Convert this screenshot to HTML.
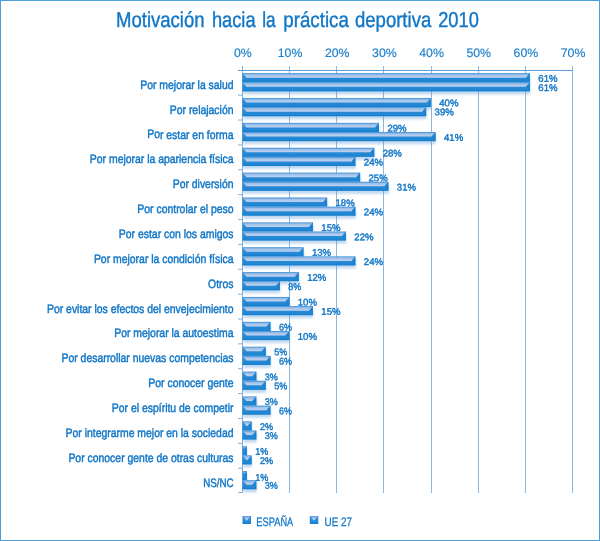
<!DOCTYPE html><html lang="es"><head><meta charset="utf-8"><title>Motivación hacia la práctica deportiva 2010</title>
<style>html,body{margin:0;padding:0;background:#fff}svg{display:block}text{font-family:"Liberation Sans",sans-serif;fill:#1076c7;text-rendering:geometricPrecision}.c{font-size:12.2px;stroke:#1076c7;stroke-width:.45px}.d{font-size:9.7px;stroke:#1076c7;stroke-width:.4px}.a{font-size:12.3px;text-anchor:middle;fill:#1a7fcc;stroke:#1a7fcc;stroke-width:.15px}</style></head><body>
<svg width="600" height="541" viewBox="0 0 600 541">
<defs>
<linearGradient id="g" x1="0" y1="0" x2="0" y2="1"><stop offset="0" stop-color="#4e99da"/><stop offset="0.12" stop-color="#3a90d7"/><stop offset="0.5" stop-color="#2a8ad5"/><stop offset="0.85" stop-color="#1f85d2"/><stop offset="1" stop-color="#0a7ccc"/></linearGradient>
<linearGradient id="h" gradientUnits="userSpaceOnUse" x1="0" y1="0" x2="0" y2="3.90"><stop offset="0" stop-color="#76aae0"/><stop offset="0.3" stop-color="#9fc0e9"/><stop offset="0.7" stop-color="#b3ccee"/><stop offset="1" stop-color="#bdd2f1"/></linearGradient>
<filter id="sh" x="-5%" y="-50%" width="110%" height="250%"><feGaussianBlur stdDeviation="1.1"/></filter>
</defs>
<rect x="0" y="0" width="600" height="541" fill="#fff"/>
<rect x="0.5" y="0.5" width="599" height="540" fill="none" stroke="#4c9fd8" stroke-width="1"/>
<text y="27.4" font-size="21.6" stroke="#1076c7" stroke-width="0.4"><tspan x="116.00" textLength="88.60" lengthAdjust="spacingAndGlyphs">Motivación</tspan> <tspan x="211.90" textLength="43.70" lengthAdjust="spacingAndGlyphs">hacia</tspan> <tspan x="262.20" textLength="13.40" lengthAdjust="spacingAndGlyphs">la</tspan> <tspan x="283.30" textLength="65.50" lengthAdjust="spacingAndGlyphs">práctica</tspan> <tspan x="355.00" textLength="76.20" lengthAdjust="spacingAndGlyphs">deportiva</tspan> <tspan x="438.20" textLength="40.60" lengthAdjust="spacingAndGlyphs">2010</tspan></text>
<line x1="242.5" y1="66" x2="242.5" y2="493.0" stroke="#7fb0e0"/>
<text class="a" transform="translate(242.90 57.1) rotate(0.03)">0%</text>
<line x1="289.5" y1="66" x2="289.5" y2="493.0" stroke="#8bb6e2"/>
<text class="a" transform="translate(290.07 57.1) rotate(0.03)">10%</text>
<line x1="336.5" y1="66" x2="336.5" y2="493.0" stroke="#8bb6e2"/>
<text class="a" transform="translate(337.24 57.1) rotate(0.03)">20%</text>
<line x1="383.5" y1="66" x2="383.5" y2="493.0" stroke="#8bb6e2"/>
<text class="a" transform="translate(384.41 57.1) rotate(0.03)">30%</text>
<line x1="431.5" y1="66" x2="431.5" y2="493.0" stroke="#8bb6e2"/>
<text class="a" transform="translate(431.58 57.1) rotate(0.03)">40%</text>
<line x1="478.5" y1="66" x2="478.5" y2="493.0" stroke="#8bb6e2"/>
<text class="a" transform="translate(478.75 57.1) rotate(0.03)">50%</text>
<line x1="525.5" y1="66" x2="525.5" y2="493.0" stroke="#8bb6e2"/>
<text class="a" transform="translate(525.92 57.1) rotate(0.03)">60%</text>
<line x1="572.5" y1="66" x2="572.5" y2="493.0" stroke="#8bb6e2"/>
<text class="a" transform="translate(573.09 57.1) rotate(0.03)">70%</text>
<line x1="238.0" y1="70.5" x2="573.0" y2="70.5" stroke="#5b9bd7"/>
<line x1="238" y1="95.17" x2="242" y2="95.17" stroke="#7fb0e0"/>
<line x1="238" y1="120.04" x2="242" y2="120.04" stroke="#7fb0e0"/>
<line x1="238" y1="144.91" x2="242" y2="144.91" stroke="#7fb0e0"/>
<line x1="238" y1="169.78" x2="242" y2="169.78" stroke="#7fb0e0"/>
<line x1="238" y1="194.65" x2="242" y2="194.65" stroke="#7fb0e0"/>
<line x1="238" y1="219.52" x2="242" y2="219.52" stroke="#7fb0e0"/>
<line x1="238" y1="244.39" x2="242" y2="244.39" stroke="#7fb0e0"/>
<line x1="238" y1="269.26" x2="242" y2="269.26" stroke="#7fb0e0"/>
<line x1="238" y1="294.13" x2="242" y2="294.13" stroke="#7fb0e0"/>
<line x1="238" y1="319.00" x2="242" y2="319.00" stroke="#7fb0e0"/>
<line x1="238" y1="343.87" x2="242" y2="343.87" stroke="#7fb0e0"/>
<line x1="238" y1="368.74" x2="242" y2="368.74" stroke="#7fb0e0"/>
<line x1="238" y1="393.61" x2="242" y2="393.61" stroke="#7fb0e0"/>
<line x1="238" y1="418.48" x2="242" y2="418.48" stroke="#7fb0e0"/>
<line x1="238" y1="443.35" x2="242" y2="443.35" stroke="#7fb0e0"/>
<line x1="238" y1="468.22" x2="242" y2="468.22" stroke="#7fb0e0"/>
<line x1="238" y1="492.50" x2="242" y2="492.50" stroke="#7fb0e0"/>
<rect x="243.40" y="76.10" width="286.94" height="9.15" fill="#5b9bd7" opacity="0.38" filter="url(#sh)"/>
<rect x="243.40" y="85.25" width="286.94" height="9.15" fill="#5b9bd7" opacity="0.38" filter="url(#sh)"/>
<rect x="242.40" y="73.10" width="287.54" height="9.15" fill="url(#g)"/>
<polygon transform="translate(0 73.80)" points="243.00,0.00 529.34,0.00 525.84,3.90 246.50,3.90" fill="url(#h)"/>
<polygon points="529.94,73.10 529.94,82.25 526.44,77.70" fill="#1580d0" opacity="0.7"/>
<text class="d" transform="translate(538.34 81.77) rotate(0.04) scale(0.99 1)">61%</text>
<rect x="242.40" y="82.25" width="287.54" height="9.15" fill="url(#g)"/>
<polygon transform="translate(0 82.95)" points="243.00,0.00 529.34,0.00 525.84,3.90 246.50,3.90" fill="url(#h)"/>
<polygon points="529.94,82.25 529.94,91.40 526.44,86.85" fill="#1580d0" opacity="0.7"/>
<text class="d" transform="translate(538.34 90.92) rotate(0.04) scale(0.99 1)">61%</text>
<text class="c" text-anchor="end" transform="translate(233.5 88.80) rotate(0.03) scale(0.855 1)">Por mejorar la salud</text>
<rect x="243.40" y="100.97" width="187.88" height="9.15" fill="#5b9bd7" opacity="0.38" filter="url(#sh)"/>
<rect x="243.40" y="110.12" width="183.16" height="9.15" fill="#5b9bd7" opacity="0.38" filter="url(#sh)"/>
<rect x="242.40" y="97.97" width="188.48" height="9.15" fill="url(#g)"/>
<polygon transform="translate(0 98.67)" points="243.00,0.00 430.28,0.00 426.78,3.90 246.50,3.90" fill="url(#h)"/>
<polygon points="430.88,97.97 430.88,107.12 427.38,102.57" fill="#1580d0" opacity="0.7"/>
<text class="d" transform="translate(439.28 106.24) rotate(0.04) scale(0.99 1)">40%</text>
<rect x="242.40" y="107.12" width="183.76" height="9.15" fill="url(#g)"/>
<polygon transform="translate(0 107.82)" points="243.00,0.00 425.56,0.00 422.06,3.90 246.50,3.90" fill="url(#h)"/>
<polygon points="426.16,107.12 426.16,116.27 422.66,111.72" fill="#1580d0" opacity="0.7"/>
<text class="d" transform="translate(434.56 115.20) rotate(0.04) scale(0.99 1)">39%</text>
<text class="c" text-anchor="end" transform="translate(233.5 113.67) rotate(0.03) scale(0.855 1)">Por relajación</text>
<rect x="243.40" y="125.84" width="135.99" height="9.15" fill="#5b9bd7" opacity="0.38" filter="url(#sh)"/>
<rect x="243.40" y="134.99" width="192.60" height="9.15" fill="#5b9bd7" opacity="0.38" filter="url(#sh)"/>
<rect x="242.40" y="122.84" width="136.59" height="9.15" fill="url(#g)"/>
<polygon transform="translate(0 123.54)" points="243.00,0.00 378.39,0.00 374.89,3.90 246.50,3.90" fill="url(#h)"/>
<polygon points="378.99,122.84 378.99,131.99 375.49,127.44" fill="#1580d0" opacity="0.7"/>
<text class="d" transform="translate(387.39 131.52) rotate(0.04) scale(0.99 1)">29%</text>
<rect x="242.40" y="131.99" width="193.20" height="9.15" fill="url(#g)"/>
<polygon transform="translate(0 132.69)" points="243.00,0.00 435.00,0.00 431.50,3.90 246.50,3.90" fill="url(#h)"/>
<polygon points="435.60,131.99 435.60,141.14 432.10,136.59" fill="#1580d0" opacity="0.7"/>
<text class="d" transform="translate(444.00 140.66) rotate(0.04) scale(0.99 1)">41%</text>
<text class="c" text-anchor="end" transform="translate(233.5 138.54) rotate(0.03) scale(0.855 1)">Por estar en forma</text>
<rect x="243.40" y="150.71" width="131.28" height="9.15" fill="#5b9bd7" opacity="0.38" filter="url(#sh)"/>
<rect x="243.40" y="159.86" width="112.41" height="9.15" fill="#5b9bd7" opacity="0.38" filter="url(#sh)"/>
<rect x="242.40" y="147.71" width="131.88" height="9.15" fill="url(#g)"/>
<polygon transform="translate(0 148.41)" points="243.00,0.00 373.68,0.00 370.18,3.90 246.50,3.90" fill="url(#h)"/>
<polygon points="374.28,147.71 374.28,156.86 370.78,152.31" fill="#1580d0" opacity="0.7"/>
<text class="d" transform="translate(382.68 156.38) rotate(0.04) scale(0.99 1)">28%</text>
<rect x="242.40" y="156.86" width="113.01" height="9.15" fill="url(#g)"/>
<polygon transform="translate(0 157.56)" points="243.00,0.00 354.81,0.00 351.31,3.90 246.50,3.90" fill="url(#h)"/>
<polygon points="355.41,156.86 355.41,166.01 351.91,161.46" fill="#1580d0" opacity="0.7"/>
<text class="d" transform="translate(363.81 165.53) rotate(0.04) scale(0.99 1)">24%</text>
<text class="c" text-anchor="end" transform="translate(233.5 163.41) rotate(0.03) scale(0.855 1)">Por mejorar la apariencia física</text>
<rect x="243.40" y="175.58" width="117.12" height="9.15" fill="#5b9bd7" opacity="0.38" filter="url(#sh)"/>
<rect x="243.40" y="184.73" width="145.43" height="9.15" fill="#5b9bd7" opacity="0.38" filter="url(#sh)"/>
<rect x="242.40" y="172.58" width="117.72" height="9.15" fill="url(#g)"/>
<polygon transform="translate(0 173.28)" points="243.00,0.00 359.52,0.00 356.02,3.90 246.50,3.90" fill="url(#h)"/>
<polygon points="360.12,172.58 360.12,181.73 356.62,177.18" fill="#1580d0" opacity="0.7"/>
<text class="d" transform="translate(368.52 181.25) rotate(0.04) scale(0.99 1)">25%</text>
<rect x="242.40" y="181.73" width="146.03" height="9.15" fill="url(#g)"/>
<polygon transform="translate(0 182.43)" points="243.00,0.00 387.83,0.00 384.33,3.90 246.50,3.90" fill="url(#h)"/>
<polygon points="388.43,181.73 388.43,190.88 384.93,186.33" fill="#1580d0" opacity="0.7"/>
<text class="d" transform="translate(396.83 190.41) rotate(0.04) scale(0.99 1)">31%</text>
<text class="c" text-anchor="end" transform="translate(233.5 188.28) rotate(0.03) scale(0.855 1)">Por diversión</text>
<rect x="243.40" y="200.45" width="84.11" height="9.15" fill="#5b9bd7" opacity="0.38" filter="url(#sh)"/>
<rect x="243.40" y="209.60" width="112.41" height="9.15" fill="#5b9bd7" opacity="0.38" filter="url(#sh)"/>
<rect x="242.40" y="197.45" width="84.71" height="9.15" fill="url(#g)"/>
<polygon transform="translate(0 198.15)" points="243.00,0.00 326.51,0.00 323.01,3.90 246.50,3.90" fill="url(#h)"/>
<polygon points="327.11,197.45 327.11,206.60 323.61,202.05" fill="#1580d0" opacity="0.7"/>
<text class="d" transform="translate(335.51 206.12) rotate(0.04) scale(0.99 1)">18%</text>
<rect x="242.40" y="206.60" width="113.01" height="9.15" fill="url(#g)"/>
<polygon transform="translate(0 207.30)" points="243.00,0.00 354.81,0.00 351.31,3.90 246.50,3.90" fill="url(#h)"/>
<polygon points="355.41,206.60 355.41,215.75 351.91,211.20" fill="#1580d0" opacity="0.7"/>
<text class="d" transform="translate(363.81 215.28) rotate(0.04) scale(0.99 1)">24%</text>
<text class="c" text-anchor="end" transform="translate(233.5 213.15) rotate(0.03) scale(0.855 1)">Por controlar el peso</text>
<rect x="243.40" y="225.32" width="69.95" height="9.15" fill="#5b9bd7" opacity="0.38" filter="url(#sh)"/>
<rect x="243.40" y="234.47" width="102.97" height="9.15" fill="#5b9bd7" opacity="0.38" filter="url(#sh)"/>
<rect x="242.40" y="222.32" width="70.55" height="9.15" fill="url(#g)"/>
<polygon transform="translate(0 223.02)" points="243.00,0.00 312.35,0.00 308.85,3.90 246.50,3.90" fill="url(#h)"/>
<polygon points="312.95,222.32 312.95,231.47 309.45,226.92" fill="#1580d0" opacity="0.7"/>
<text class="d" transform="translate(321.35 230.99) rotate(0.04) scale(0.99 1)">15%</text>
<rect x="242.40" y="231.47" width="103.57" height="9.15" fill="url(#g)"/>
<polygon transform="translate(0 232.17)" points="243.00,0.00 345.37,0.00 341.87,3.90 246.50,3.90" fill="url(#h)"/>
<polygon points="345.97,231.47 345.97,240.62 342.47,236.07" fill="#1580d0" opacity="0.7"/>
<text class="d" transform="translate(354.37 240.14) rotate(0.04) scale(0.99 1)">22%</text>
<text class="c" text-anchor="end" transform="translate(233.5 238.02) rotate(0.03) scale(0.855 1)">Por estar con los amigos</text>
<rect x="243.40" y="250.19" width="60.52" height="9.15" fill="#5b9bd7" opacity="0.38" filter="url(#sh)"/>
<rect x="243.40" y="259.34" width="112.41" height="9.15" fill="#5b9bd7" opacity="0.38" filter="url(#sh)"/>
<rect x="242.40" y="247.19" width="61.12" height="9.15" fill="url(#g)"/>
<polygon transform="translate(0 247.89)" points="243.00,0.00 302.92,0.00 299.42,3.90 246.50,3.90" fill="url(#h)"/>
<polygon points="303.52,247.19 303.52,256.34 300.02,251.79" fill="#1580d0" opacity="0.7"/>
<text class="d" transform="translate(311.92 255.86) rotate(0.04) scale(0.99 1)">13%</text>
<rect x="242.40" y="256.34" width="113.01" height="9.15" fill="url(#g)"/>
<polygon transform="translate(0 257.04)" points="243.00,0.00 354.81,0.00 351.31,3.90 246.50,3.90" fill="url(#h)"/>
<polygon points="355.41,256.34 355.41,265.49 351.91,260.94" fill="#1580d0" opacity="0.7"/>
<text class="d" transform="translate(363.81 265.01) rotate(0.04) scale(0.99 1)">24%</text>
<text class="c" text-anchor="end" transform="translate(233.5 262.89) rotate(0.03) scale(0.855 1)">Por mejorar la condición física</text>
<rect x="243.40" y="275.06" width="55.80" height="9.15" fill="#5b9bd7" opacity="0.38" filter="url(#sh)"/>
<rect x="243.40" y="284.21" width="36.94" height="9.15" fill="#5b9bd7" opacity="0.38" filter="url(#sh)"/>
<rect x="242.40" y="272.06" width="56.40" height="9.15" fill="url(#g)"/>
<polygon transform="translate(0 272.76)" points="243.00,0.00 298.20,0.00 294.70,3.90 246.50,3.90" fill="url(#h)"/>
<polygon points="298.80,272.06 298.80,281.21 295.30,276.66" fill="#1580d0" opacity="0.7"/>
<text class="d" transform="translate(307.20 280.74) rotate(0.04) scale(0.99 1)">12%</text>
<rect x="242.40" y="281.21" width="37.54" height="9.15" fill="url(#g)"/>
<polygon transform="translate(0 281.91)" points="243.00,0.00 279.34,0.00 275.84,3.90 246.50,3.90" fill="url(#h)"/>
<polygon points="279.94,281.21 279.94,290.36 276.44,285.81" fill="#1580d0" opacity="0.7"/>
<text class="d" transform="translate(288.34 289.89) rotate(0.04) scale(0.93 1)">8%</text>
<text class="c" text-anchor="end" transform="translate(233.5 287.76) rotate(0.03) scale(0.855 1)">Otros</text>
<rect x="243.40" y="299.93" width="46.37" height="9.15" fill="#5b9bd7" opacity="0.38" filter="url(#sh)"/>
<rect x="243.40" y="309.08" width="69.95" height="9.15" fill="#5b9bd7" opacity="0.38" filter="url(#sh)"/>
<rect x="242.40" y="296.93" width="46.97" height="9.15" fill="url(#g)"/>
<polygon transform="translate(0 297.63)" points="243.00,0.00 288.77,0.00 285.27,3.90 246.50,3.90" fill="url(#h)"/>
<polygon points="289.37,296.93 289.37,306.08 285.87,301.53" fill="#1580d0" opacity="0.7"/>
<text class="d" transform="translate(297.77 305.61) rotate(0.04) scale(0.99 1)">10%</text>
<rect x="242.40" y="306.08" width="70.55" height="9.15" fill="url(#g)"/>
<polygon transform="translate(0 306.78)" points="243.00,0.00 312.35,0.00 308.85,3.90 246.50,3.90" fill="url(#h)"/>
<polygon points="312.95,306.08 312.95,315.23 309.45,310.68" fill="#1580d0" opacity="0.7"/>
<text class="d" transform="translate(321.35 314.76) rotate(0.04) scale(0.99 1)">15%</text>
<text class="c" text-anchor="end" transform="translate(233.5 312.63) rotate(0.03) scale(0.855 1)">Por evitar los efectos del envejecimiento</text>
<rect x="243.40" y="324.80" width="27.50" height="9.15" fill="#5b9bd7" opacity="0.38" filter="url(#sh)"/>
<rect x="243.40" y="333.95" width="46.37" height="9.15" fill="#5b9bd7" opacity="0.38" filter="url(#sh)"/>
<rect x="242.40" y="321.80" width="28.10" height="9.15" fill="url(#g)"/>
<polygon transform="translate(0 322.50)" points="243.00,0.00 269.90,0.00 266.40,3.90 246.50,3.90" fill="url(#h)"/>
<polygon points="270.50,321.80 270.50,330.95 267.00,326.40" fill="#1580d0" opacity="0.7"/>
<text class="d" transform="translate(278.90 330.48) rotate(0.04) scale(0.93 1)">6%</text>
<rect x="242.40" y="330.95" width="46.97" height="9.15" fill="url(#g)"/>
<polygon transform="translate(0 331.65)" points="243.00,0.00 288.77,0.00 285.27,3.90 246.50,3.90" fill="url(#h)"/>
<polygon points="289.37,330.95 289.37,340.10 285.87,335.55" fill="#1580d0" opacity="0.7"/>
<text class="d" transform="translate(297.77 339.63) rotate(0.04) scale(0.99 1)">10%</text>
<text class="c" text-anchor="end" transform="translate(233.5 337.50) rotate(0.03) scale(0.855 1)">Por mejorar la autoestima</text>
<rect x="243.40" y="349.67" width="22.78" height="9.15" fill="#5b9bd7" opacity="0.38" filter="url(#sh)"/>
<rect x="243.40" y="358.82" width="27.50" height="9.15" fill="#5b9bd7" opacity="0.38" filter="url(#sh)"/>
<rect x="242.40" y="346.67" width="23.38" height="9.15" fill="url(#g)"/>
<polygon transform="translate(0 347.37)" points="243.00,0.00 265.19,0.00 261.69,3.90 246.50,3.90" fill="url(#h)"/>
<polygon points="265.79,346.67 265.79,355.82 262.29,351.27" fill="#1580d0" opacity="0.7"/>
<text class="d" transform="translate(274.19 355.35) rotate(0.04) scale(0.93 1)">5%</text>
<rect x="242.40" y="355.82" width="28.10" height="9.15" fill="url(#g)"/>
<polygon transform="translate(0 356.52)" points="243.00,0.00 269.90,0.00 266.40,3.90 246.50,3.90" fill="url(#h)"/>
<polygon points="270.50,355.82 270.50,364.97 267.00,360.42" fill="#1580d0" opacity="0.7"/>
<text class="d" transform="translate(278.90 364.50) rotate(0.04) scale(0.93 1)">6%</text>
<text class="c" text-anchor="end" transform="translate(233.5 362.37) rotate(0.03) scale(0.855 1)">Por desarrollar nuevas competencias</text>
<rect x="243.40" y="374.54" width="13.35" height="9.15" fill="#5b9bd7" opacity="0.38" filter="url(#sh)"/>
<rect x="243.40" y="383.69" width="22.78" height="9.15" fill="#5b9bd7" opacity="0.38" filter="url(#sh)"/>
<rect x="242.40" y="371.54" width="13.95" height="9.15" fill="url(#g)"/>
<polygon transform="translate(0 372.24)" points="243.00,0.00 255.75,0.00 252.25,3.90 246.50,3.90" fill="url(#h)"/>
<polygon points="256.35,371.54 256.35,380.69 252.85,376.14" fill="#1580d0" opacity="0.7"/>
<text class="d" transform="translate(264.75 380.22) rotate(0.04) scale(0.93 1)">3%</text>
<rect x="242.40" y="380.69" width="23.38" height="9.15" fill="url(#g)"/>
<polygon transform="translate(0 381.39)" points="243.00,0.00 265.19,0.00 261.69,3.90 246.50,3.90" fill="url(#h)"/>
<polygon points="265.79,380.69 265.79,389.84 262.29,385.29" fill="#1580d0" opacity="0.7"/>
<text class="d" transform="translate(274.19 389.37) rotate(0.04) scale(0.93 1)">5%</text>
<text class="c" text-anchor="end" transform="translate(233.5 387.24) rotate(0.03) scale(0.855 1)">Por conocer gente</text>
<rect x="243.40" y="399.41" width="13.35" height="9.15" fill="#5b9bd7" opacity="0.38" filter="url(#sh)"/>
<rect x="243.40" y="408.56" width="27.50" height="9.15" fill="#5b9bd7" opacity="0.38" filter="url(#sh)"/>
<rect x="242.40" y="396.41" width="13.95" height="9.15" fill="url(#g)"/>
<polygon transform="translate(0 397.11)" points="243.00,0.00 255.75,0.00 252.25,3.90 246.50,3.90" fill="url(#h)"/>
<polygon points="256.35,396.41 256.35,405.56 252.85,401.01" fill="#1580d0" opacity="0.7"/>
<text class="d" transform="translate(264.75 405.09) rotate(0.04) scale(0.93 1)">3%</text>
<rect x="242.40" y="405.56" width="28.10" height="9.15" fill="url(#g)"/>
<polygon transform="translate(0 406.26)" points="243.00,0.00 269.90,0.00 266.40,3.90 246.50,3.90" fill="url(#h)"/>
<polygon points="270.50,405.56 270.50,414.71 267.00,410.16" fill="#1580d0" opacity="0.7"/>
<text class="d" transform="translate(278.90 414.24) rotate(0.04) scale(0.93 1)">6%</text>
<text class="c" text-anchor="end" transform="translate(233.5 412.11) rotate(0.03) scale(0.855 1)">Por el espíritu de competir</text>
<rect x="243.40" y="424.28" width="8.63" height="9.15" fill="#5b9bd7" opacity="0.38" filter="url(#sh)"/>
<rect x="243.40" y="433.43" width="13.35" height="9.15" fill="#5b9bd7" opacity="0.38" filter="url(#sh)"/>
<rect x="242.40" y="421.28" width="9.23" height="9.15" fill="url(#g)"/>
<polygon transform="translate(0 421.98)" points="243.00,0.00 251.03,0.00 247.53,3.90 246.50,3.90" fill="url(#h)"/>
<polygon points="251.63,421.28 251.63,430.43 248.13,425.88" fill="#1580d0" opacity="0.7"/>
<text class="d" transform="translate(260.03 429.96) rotate(0.04) scale(0.93 1)">2%</text>
<rect x="242.40" y="430.43" width="13.95" height="9.15" fill="url(#g)"/>
<polygon transform="translate(0 431.13)" points="243.00,0.00 255.75,0.00 252.25,3.90 246.50,3.90" fill="url(#h)"/>
<polygon points="256.35,430.43 256.35,439.58 252.85,435.03" fill="#1580d0" opacity="0.7"/>
<text class="d" transform="translate(264.75 439.11) rotate(0.04) scale(0.93 1)">3%</text>
<text class="c" text-anchor="end" transform="translate(233.5 436.98) rotate(0.03) scale(0.855 1)">Por integrarme mejor en la sociedad</text>
<rect x="243.40" y="449.15" width="3.92" height="9.15" fill="#5b9bd7" opacity="0.38" filter="url(#sh)"/>
<rect x="243.40" y="458.30" width="8.63" height="9.15" fill="#5b9bd7" opacity="0.38" filter="url(#sh)"/>
<rect x="242.40" y="446.15" width="4.52" height="9.15" fill="url(#g)"/>
<polygon transform="translate(0 446.85)" points="243.00,0.00 246.32,0.00 244.66,1.85" fill="url(#h)"/>
<polygon points="246.92,446.15 246.92,455.30 244.66,449.37" fill="#1580d0" opacity="0.7"/>
<text class="d" transform="translate(255.32 454.83) rotate(0.04) scale(0.93 1)">1%</text>
<rect x="242.40" y="455.30" width="9.23" height="9.15" fill="url(#g)"/>
<polygon transform="translate(0 456.00)" points="243.00,0.00 251.03,0.00 247.53,3.90 246.50,3.90" fill="url(#h)"/>
<polygon points="251.63,455.30 251.63,464.45 248.13,459.90" fill="#1580d0" opacity="0.7"/>
<text class="d" transform="translate(260.03 463.98) rotate(0.04) scale(0.93 1)">2%</text>
<text class="c" text-anchor="end" transform="translate(233.5 461.85) rotate(0.03) scale(0.855 1)">Por conocer gente de otras culturas</text>
<rect x="243.40" y="474.02" width="3.92" height="9.15" fill="#5b9bd7" opacity="0.38" filter="url(#sh)"/>
<rect x="243.40" y="483.17" width="13.35" height="9.15" fill="#5b9bd7" opacity="0.38" filter="url(#sh)"/>
<rect x="242.40" y="471.02" width="4.52" height="9.15" fill="url(#g)"/>
<polygon transform="translate(0 471.72)" points="243.00,0.00 246.32,0.00 244.66,1.85" fill="url(#h)"/>
<polygon points="246.92,471.02 246.92,480.17 244.66,474.24" fill="#1580d0" opacity="0.7"/>
<text class="d" transform="translate(255.32 480.70) rotate(0.04) scale(0.93 1)">1%</text>
<rect x="242.40" y="480.17" width="13.95" height="9.15" fill="url(#g)"/>
<polygon transform="translate(0 480.87)" points="243.00,0.00 255.75,0.00 252.25,3.90 246.50,3.90" fill="url(#h)"/>
<polygon points="256.35,480.17 256.35,489.32 252.85,484.77" fill="#1580d0" opacity="0.7"/>
<text class="d" transform="translate(264.75 488.85) rotate(0.04) scale(0.93 1)">3%</text>
<text class="c" text-anchor="end" transform="translate(233.5 486.72) rotate(0.03) scale(0.800 1)">NS/NC</text>
<rect x="242.50" y="516" width="8.5" height="8" fill="url(#g)"/>
<polygon transform="translate(0 516.6)" points="243.10,0 250.40,0 247.10,3.8 246.40,3.8" fill="url(#h)"/>
<text class="c" style="stroke-width:.25px" x="256.30" y="525.6" textLength="37.0" lengthAdjust="spacingAndGlyphs">ESPAÑA</text>
<rect x="309.80" y="516" width="8.5" height="8" fill="url(#g)"/>
<polygon transform="translate(0 516.6)" points="310.40,0 317.70,0 314.40,3.8 313.70,3.8" fill="url(#h)"/>
<text class="c" style="stroke-width:.25px" x="324.50" y="525.6" textLength="27.5" lengthAdjust="spacingAndGlyphs">UE 27</text>
</svg></body></html>
